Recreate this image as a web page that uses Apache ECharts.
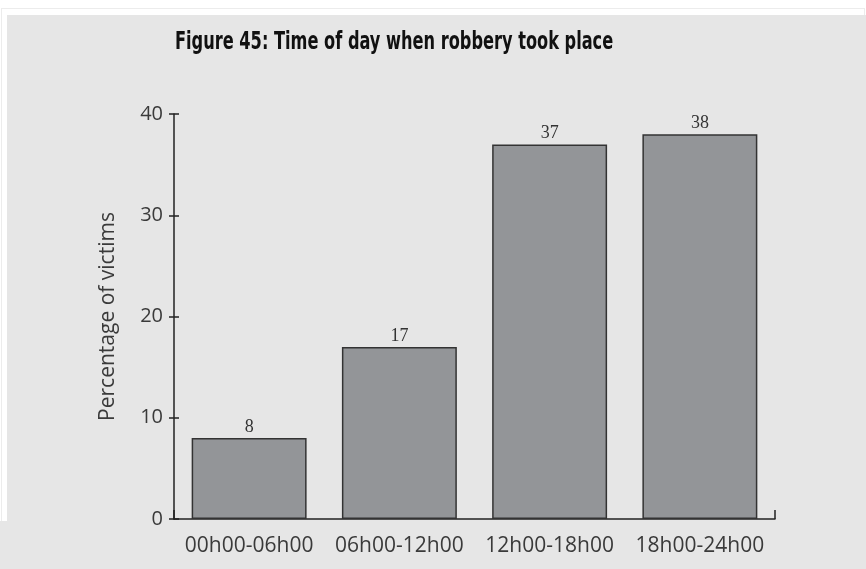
<!DOCTYPE html>
<html>
<head>
<meta charset="utf-8">
<script src="https://cdn.jsdelivr.net/npm/echarts@6/dist/echarts.min.js"></script>
<style>
html,body{margin:0;padding:0;background:#fff;width:866px;height:569px;overflow:hidden;}
#bg{position:absolute;left:7px;top:15px;width:859px;height:554px;background:#e6e6e6;}
#bg2{position:absolute;left:0;top:521px;width:8px;height:48px;background:#e6e6e6;}
#frame{position:absolute;left:1px;top:8px;width:862px;height:512px;border:1px solid #ececec;}
#chart{position:absolute;left:0;top:0;width:866px;height:569px;}
</style>
</head>
<body>
<div id="frame"></div>
<div id="bg"></div>
<div id="bg2"></div>
<div id="chart"></div>
<script>
const categories = ['00h00-06h00', '06h00-12h00', '12h00-18h00', '18h00-24h00'];
const values = [8, 17, 37, 38];
const yTicks = { min: 0, max: 40, interval: 10 };
const titleText = 'Figure 45: Time of day when robbery took place';
const yName = 'Percentage of victims';

const chart = echarts.init(document.getElementById('chart'), null, { renderer: 'canvas' });
const axisFont = { fontFamily: 'Open Sans', fontSize: 20, color: '#3a3a3a' };
chart.setOption({
  animation: false,
  backgroundColor: 'transparent',
  graphic: [{
    type: 'text',
    left: 175,
    top: 31,
    scaleX: 0.75,
    style: {
      text: titleText,
      font: "bold 24px 'DejaVu Sans Condensed', sans-serif",
      fill: '#111'
    }
  }],
  grid: { left: 174, top: 114, right: 91, bottom: 50, containLabel: false },
  xAxis: [{
    type: 'category',
    data: categories,
    axisLine: { show: true, lineStyle: { color: '#222', width: 1.5 } },
    axisTick: { show: false },
    axisLabel: Object.assign({}, axisFont, { margin: 17, interval: 0, fontSize: 21 })
  }, {
    type: 'value',
    position: 'bottom',
    min: 0, max: 1, interval: 1,
    axisLine: { show: false },
    axisTick: { show: true, inside: true, length: 9, lineStyle: { color: '#222', width: 1.5 } },
    axisLabel: { show: false },
    splitLine: { show: false }
  }],
  yAxis: [{
    type: 'value',
    min: yTicks.min, max: yTicks.max, interval: yTicks.interval,
    name: yName,
    nameLocation: 'middle',
    nameGap: 55,
    nameTextStyle: Object.assign({}, axisFont, { fontSize: 21 }),
    axisLine: { show: true, lineStyle: { color: '#222', width: 1.5 } },
    axisTick: { show: true, length: 5, lineStyle: { color: '#222', width: 1.5 } },
    axisLabel: Object.assign({ margin: 11 }, axisFont),
    splitLine: { show: false }
  }, {
    type: 'value',
    position: 'left',
    min: yTicks.min, max: yTicks.max, interval: yTicks.interval,
    axisLine: { show: false },
    axisTick: { show: true, inside: true, length: 5, lineStyle: { color: '#222', width: 1.5 } },
    axisLabel: { show: false },
    splitLine: { show: false }
  }],
  series: [{
    type: 'bar',
    data: values,
    barCategoryGap: '23.5%',
    itemStyle: { color: '#939598', borderColor: '#333', borderWidth: 1.5 },
    label: { show: true, position: 'top', distance: 2, fontFamily: 'Liberation Serif', fontSize: 18, color: '#333' }
  }]
});
</script>
</body>
</html>
